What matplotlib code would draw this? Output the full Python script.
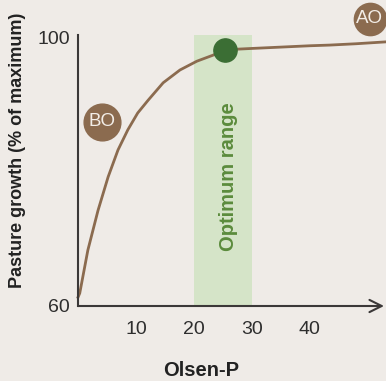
"""Pasture growth response to Olsen-P, with the optimum range highlighted."""

import matplotlib

matplotlib.use("Agg")
import matplotlib.pyplot as plt

plt.rcParams["font.family"] = ["Liberation Sans", "DejaVu Sans"]

BG = "#efebe7"
BROWN = "#8b6b4f"
AXIS = "#3b3838"
BAND = "#d5e4c8"
DARK_GREEN = "#3b6e34"
TEXT_GREEN = "#5b8b3c"

# response curve
olsen_p = [0, 0.3, 1.7, 3.45, 5.2, 6.9, 8.6, 10.3, 12.1, 14.7, 17.6, 20.5, 23.3, 25.3,
           30, 35, 40, 43.4, 48, 53.5]
growth = [61.3, 61.9, 68.3, 74.2, 79.2, 83.2, 86.2, 88.7, 90.6, 93.2, 95.1, 96.4, 97.3, 98.1,
          98.3, 98.5, 98.7, 98.8, 99.0, 99.3]

optimum = (20, 30)
optimum_point = (25.3, 98.1)
markers = {"BO": (4.1, 87.4), "AO": (50.3, 102.7)}
marker_sizes = {"BO": 700, "AO": 540}

x_ticks = [10, 20, 30, 40]
y_ticks = [60, 100]

fig = plt.figure(figsize=(3.86, 3.81), dpi=100, facecolor=BG)
ax = fig.add_axes([78 / 386, 75 / 381, 306 / 386, 271 / 381], facecolor=BG)

ax.axvspan(*optimum, color=BAND, lw=0, zorder=0)
ax.text(26.0, 79.2, "Optimum range", rotation=90, ha="center", va="center",
        color=TEXT_GREEN, fontsize=14.5, fontweight="bold")

ax.plot(olsen_p, growth, color=BROWN, lw=2, clip_on=False, zorder=2)
ax.scatter(*optimum_point, s=280, color=DARK_GREEN, zorder=3)

for label, (x, y) in markers.items():
    ax.scatter(x, y, s=marker_sizes[label], color=BROWN, clip_on=False, zorder=3)
    ax.text(x, y, label, ha="center", va="center", color="#f3eee8",
            fontsize=13.5, zorder=4, clip_on=False)

ax.set_xlim(0, 52.8)
ax.set_ylim(60, 100.3)
ax.set_xticks(x_ticks)
ax.set_yticks(y_ticks)
ax.tick_params(length=0, labelsize=14, colors="#2e2e2e")
ax.tick_params(axis="x", pad=11)
ax.tick_params(axis="y", pad=6)

for side in ["top", "right", "bottom"]:
    ax.spines[side].set_visible(False)
ax.spines["left"].set_color(AXIS)
ax.spines["left"].set_linewidth(1.5)
ax.annotate("", xy=(1.0, 0), xytext=(0, 0), xycoords="axes fraction",
            arrowprops=dict(arrowstyle="->", lw=1.5, color=AXIS,
                            mutation_scale=22, shrinkA=0, shrinkB=0))

fig.text(18 / 386, 1 - 150 / 381, "Pasture growth (% of maximum)", rotation=90,
         ha="center", va="center", fontsize=13, fontweight="bold", color="#222222")
fig.text(201 / 386, 1 - 371 / 381, "Olsen-P", ha="center", va="center",
         fontsize=14.5, fontweight="bold", color="#222222")

fig.savefig("out.png", dpi=100, facecolor=BG)
